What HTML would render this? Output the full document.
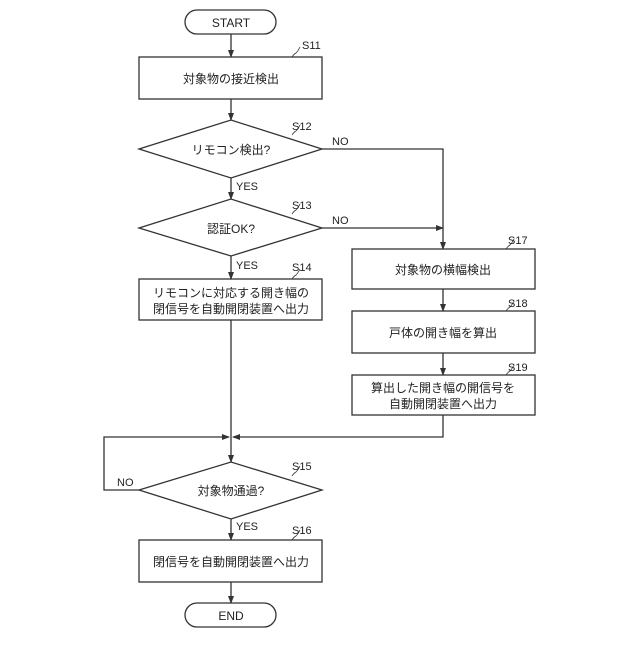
<!DOCTYPE html>
<html><head><meta charset="utf-8"><style>body{margin:0;background:#fff}</style></head><body>
<svg width="640" height="640" xmlns="http://www.w3.org/2000/svg" font-family="'Liberation Sans','Noto Sans CJK JP',sans-serif" fill="none" stroke="#333" stroke-width="1.3">
<defs><marker id="a" markerWidth="8" markerHeight="8" refX="7" refY="4" orient="auto" markerUnits="userSpaceOnUse"><path d="M0,1 L8,4 L0,7z" fill="#333" stroke="none"/></marker></defs>
<rect x="185" y="10" width="91" height="24" rx="12"/>
<rect x="139" y="57" width="183" height="42"/>
<polygon points="139,149 231,120 322,149 231,178"/>
<polygon points="139,228 231,199 322,228 231,256"/>
<rect x="139" y="279" width="183" height="41"/>
<rect x="352" y="249" width="183" height="40"/>
<rect x="352" y="311" width="183" height="42"/>
<rect x="352" y="375" width="183" height="40"/>
<polygon points="139,490 231,462 322,490 231,519"/>
<rect x="139" y="540" width="183" height="42"/>
<rect x="185" y="603" width="91" height="24" rx="12"/>
<g marker-end="url(#a)">
<line x1="231" y1="34" x2="231" y2="57"/>
<line x1="231" y1="99" x2="231" y2="120"/>
<line x1="231" y1="178" x2="231" y2="199"/>
<line x1="231" y1="256" x2="231" y2="279"/>
<polyline points="322,149 443,149 443,249"/>
<line x1="322" y1="228" x2="443" y2="228"/>
<line x1="443" y1="289" x2="443" y2="311"/>
<line x1="443" y1="353" x2="443" y2="375"/>
<polyline points="443,415 443,437 233,437"/>
<polyline points="139,490 104,490 104,437 229,437"/>
<line x1="231" y1="320" x2="231" y2="462"/>
<line x1="231" y1="519" x2="231" y2="540"/>
<line x1="231" y1="582" x2="231" y2="603"/>
</g>
<g stroke-width="0.8"><path d="M292,57 q2,-3 4,-4 q2,-2 4,-6"/><path d="M292,135 q2,-3 4,-4 q2,-2 4,-6"/><path d="M292,214 q2,-3 4,-4 q2,-2 4,-6"/><path d="M292,279 q2,-3 4,-4 q2,-2 4,-6"/><path d="M506,249 q2,-3 4,-4 q2,-2 4,-6"/><path d="M506,311 q2,-3 4,-4 q2,-2 4,-6"/><path d="M506,375 q2,-3 4,-4 q2,-2 4,-6"/><path d="M292,476 q2,-3 4,-4 q2,-2 4,-6"/><path d="M292,540 q2,-3 4,-4 q2,-2 4,-6"/></g>
<g fill="#222" stroke="none" font-size="12" text-anchor="middle">
<text x="231" y="27">START</text>
<text x="231" y="83">対象物の接近検出</text>
<text x="231" y="154">リモコン検出?</text>
<text x="231" y="233">認証OK?</text>
<text x="231" y="297">リモコンに対応する開き幅の</text>
<text x="231" y="313">閉信号を自動開閉装置へ出力</text>
<text x="443" y="274">対象物の横幅検出</text>
<text x="443" y="337">戸体の開き幅を算出</text>
<text x="443" y="392">算出した開き幅の開信号を</text>
<text x="443" y="408">自動開閉装置へ出力</text>
<text x="231" y="495">対象物通過?</text>
<text x="231" y="566">閉信号を自動開閉装置へ出力</text>
<text x="231" y="620">END</text>
</g>
<g fill="#222" stroke="none" font-size="11">
<text x="302" y="49">S11</text><text x="292" y="130">S12</text><text x="292" y="209">S13</text><text x="292" y="271">S14</text>
<text x="508" y="244">S17</text><text x="508" y="307">S18</text><text x="508" y="371">S19</text><text x="292" y="470">S15</text><text x="292" y="534">S16</text>
<text x="332" y="145">NO</text><text x="332" y="224">NO</text><text x="117" y="486">NO</text>
<text x="236" y="190">YES</text><text x="236" y="269">YES</text><text x="236" y="530">YES</text>
</g>
</svg>
</body></html>
